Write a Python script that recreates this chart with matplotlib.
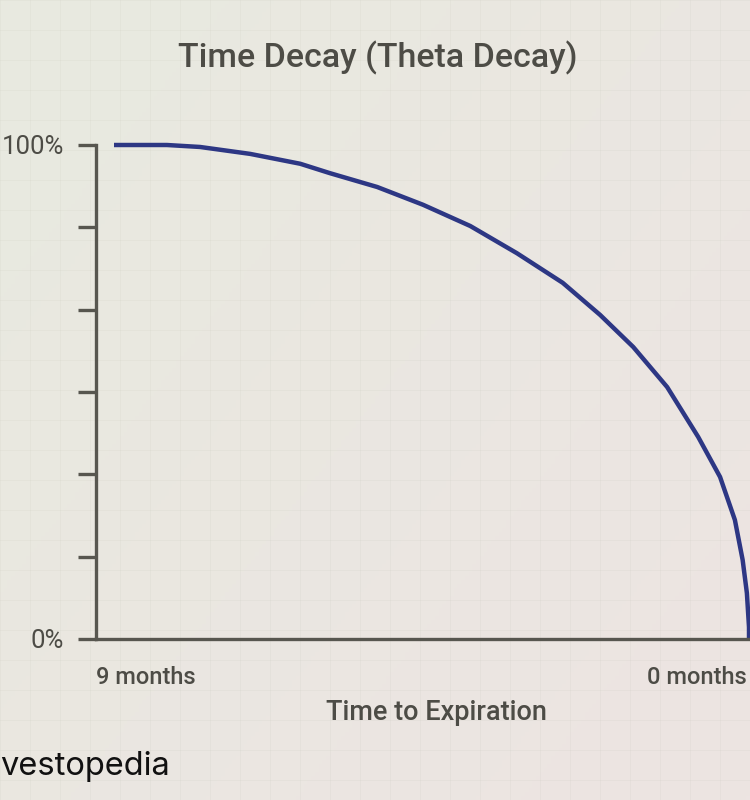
import matplotlib.pyplot as plt
import numpy as np

# Values (months to expiration, % of time value left)
months = [9.00, 8.25, 7.78, 7.07, 6.36, 5.94, 5.27, 4.62, 3.95, 3.29, 2.64,
          2.11, 1.64, 1.16, 0.72, 0.41, 0.20, 0.09, 0.03, 0.00, 0.00]
value = [100.0, 100.0, 99.6, 98.2, 96.2, 94.3, 91.5, 87.9, 83.6, 78.1, 72.1,
         65.6, 59.1, 51.0, 40.9, 32.8, 24.1, 16.0, 9.3, 2.4, 0.0]

y_ticks = [0, 100 / 6, 200 / 6, 50, 400 / 6, 500 / 6, 100]
y_tick_labels = ["0%", "", "", "", "", "", "100%"]

title = "Time Decay (Theta Decay)"
x_label = "Time to Expiration"
x_start_label = "9 months"
x_end_label = "0 months"
brand = "vestopedia"

text_colour = "#4d4c46"
axis_colour = "#57564f"
line_colour = "#2d3784"

plt.rcParams["font.family"] = ["Roboto", "DejaVu Sans"]

W, H = 750, 800
fig = plt.figure(figsize=(W / 100, H / 100), dpi=100)

# Background: soft greenish-grey to pink gradient with faint paper grid
bg = fig.add_axes([0, 0, 1, 1], zorder=0)
gx, gy = np.meshgrid(np.linspace(0, 1, 200), np.linspace(0, 1, 200))
t = np.clip(0.55 * gx + 0.45 * gy, 0, 1)[..., None]
left_col = np.array([232, 234, 224]) / 255
right_col = np.array([237, 228, 226]) / 255
bg.imshow(left_col * (1 - t) + right_col * t, extent=[0, W, H, 0], aspect="auto")
for gxp in range(0, W, 30):
    bg.axvline(gxp, color="#c9c9bf", lw=0.6, alpha=0.18)
for gyp in range(0, H, 30):
    bg.axhline(gyp, color="#c9c9bf", lw=0.6, alpha=0.18)
bg.set_xlim(0, W)
bg.set_ylim(H, 0)
bg.axis("off")

# Main axes (right edge runs past the figure, as in the cropped original)
left_px, right_px = 96, 770
bottom_px, top_px = 639, 145
ax = fig.add_axes([left_px / W, 1 - bottom_px / H,
                   (right_px - left_px) / W, (bottom_px - top_px) / H], zorder=1)
ax.patch.set_alpha(0)

ax.plot(months, value, color=line_colour, lw=3.2, solid_capstyle="butt",
        solid_joinstyle="round", clip_on=False, zorder=3)

px_per_month = (749 - 114) / 9
ax.set_xlim(9 + (114 - left_px) / px_per_month, 0 - (right_px - 749) / px_per_month)
ax.set_ylim(0, 100)

for side in ("top", "right"):
    ax.spines[side].set_visible(False)
for side in ("left", "bottom"):
    ax.spines[side].set_color(axis_colour)
    ax.spines[side].set_linewidth(2.4)
ax.spines["bottom"].set_zorder(4)

ax.set_xticks([])
ax.set_yticks(y_ticks)
ax.set_yticklabels(y_tick_labels)
ax.tick_params(axis="y", direction="out", length=13, width=2.4, color=axis_colour,
               labelcolor=text_colour, labelsize=18.5, pad=10)

fig.text(378 / W, 1 - 58 / H, title, ha="center", va="center",
         fontsize=24.5, color=text_colour, fontweight="medium")
fig.text(96 / W, 1 - 678 / H, x_start_label, ha="left", va="center",
         fontsize=17, color=text_colour, fontweight="medium")
fig.text(747 / W, 1 - 678 / H, x_end_label, ha="right", va="center",
         fontsize=17, color=text_colour, fontweight="medium")
fig.text(437 / W, 1 - 713 / H, x_label, ha="center", va="center",
         fontsize=19.5, color=text_colour, fontweight="medium")
fig.text(0, 1 - 766 / H, brand, ha="left", va="center",
         fontsize=23.5, color="#111111", family=["Inter", "DejaVu Sans"])

fig.savefig("out.png", dpi=100)
